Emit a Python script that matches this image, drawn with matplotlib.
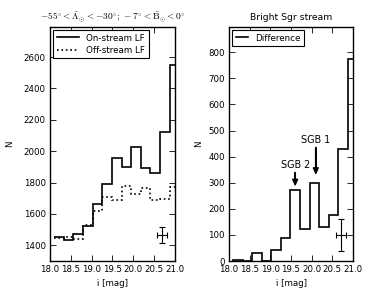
import numpy as np
import matplotlib
matplotlib.use('Agg')
import matplotlib.pyplot as plt
from matplotlib.lines import Line2D

plt.rcParams['mathtext.fontset'] = 'cm'
plt.rcParams['font.family'] = 'DejaVu Sans'

# bin edges in i [mag]
edges = [18.10, 18.33, 18.56, 18.79, 19.02, 19.25, 19.48, 19.72, 19.95,
         20.18, 20.41, 20.64, 20.87, 21.10]
on_lf = [1451, 1432, 1472, 1523, 1663, 1794, 1959, 1900, 2029, 1896, 1862, 2120, 2551]
off_lf = [1446, 1453, 1442, 1530, 1622, 1706, 1686, 1781, 1728, 1764, 1686, 1695, 1775]
diff = [5, 0, 30, 0, 42, 90, 272, 122, 300, 130, 175, 430, 775]

xticks = [18.0, 18.5, 19.0, 19.5, 20.0, 20.5, 21.0]
yticks_l = [1400, 1600, 1800, 2000, 2200, 2400, 2600]
yticks_r = [0, 100, 200, 300, 400, 500, 600, 700, 800]

# representative error bars
err_l = dict(x=20.70, y=1465, xerr=0.12, yerr=50)
err_r = dict(x=20.72, y=100, xerr=0.12, yerr=60)

fig = plt.figure(figsize=(3.74, 2.99), dpi=100)
ax1 = fig.add_axes([0.1337, 0.127, 0.3342, 0.7827])
ax2 = fig.add_axes([0.6123, 0.127, 0.3316, 0.7827])

fs = 6.2

def style(ax):
    ax.tick_params(direction='in', top=True, right=True, labelsize=fs,
                   length=4, width=0.6, pad=3)
    for s in ax.spines.values():
        s.set_linewidth(1.0)
    ax.set_xlim(18.0, 21.0)
    ax.set_xticks(xticks)
    ax.set_xticklabels(['%.1f' % t for t in xticks])
    ax.set_xlabel('i [mag]', fontsize=6.2, labelpad=3.5)
    ax.set_ylabel('N', fontsize=6.2)

# left panel
ax1.stairs(on_lf, edges, baseline=None, color='k', lw=1.2)
ax1.stairs(off_lf, edges, baseline=None, color='k', lw=1.2, ls=':')
ax1.errorbar(err_l['x'], err_l['y'], xerr=err_l['xerr'], yerr=err_l['yerr'],
             color='k', lw=0.8, capsize=2, capthick=0.8)
style(ax1)
ax1.set_ylim(1300, 2792)
ax1.set_yticks(yticks_l)
ax1.yaxis.labelpad = 7
ax1.set_title(r'$-55^{\circ} < \tilde{\Lambda}_{\odot} < -30^{\circ};\, '
              r'-7^{\circ} < \tilde{\mathrm{B}}_{\odot} < 0^{\circ}$',
              fontsize=6.8, pad=5)
h1 = [Line2D([], [], color='k', lw=1.2), Line2D([], [], color='k', lw=1.2, ls=':')]
leg = ax1.legend(h1, ['On-stream LF', 'Off-stream LF'], loc='upper left',
                 fontsize=6.3, fancybox=False, edgecolor='k', framealpha=1,
                 handlelength=2.6, borderaxespad=0.35, labelspacing=0.35)
leg.get_frame().set_linewidth(0.8)

# right panel
ax2.stairs(diff, edges, baseline=0, color='k', lw=1.2)
ax2.errorbar(err_r['x'], err_r['y'], xerr=err_r['xerr'], yerr=err_r['yerr'],
             color='k', lw=0.8, capsize=2, capthick=0.8)
style(ax2)
ax2.set_ylim(0, 897)
ax2.set_yticks(yticks_r)
ax2.yaxis.labelpad = 4
ax2.set_title('Bright Sgr stream', fontsize=6.7, pad=5)
h2 = [Line2D([], [], color='k', lw=1.2)]
leg2 = ax2.legend(h2, ['Difference'], loc='upper left', fontsize=6.3,
                  fancybox=False, edgecolor='k', framealpha=1,
                  handlelength=1.4, borderaxespad=0.35)
leg2.get_frame().set_linewidth(0.8)

arrow = dict(facecolor='k', edgecolor='k', width=0.3, headwidth=3.5,
             headlength=4, shrink=0)
ax2.annotate('SGB 2', xy=(19.6, 292), xytext=(19.6, 350), ha='center',
             va='bottom', fontsize=6.9, arrowprops=arrow)
ax2.annotate('SGB 1', xy=(20.1, 336), xytext=(20.1, 446), ha='center',
             va='bottom', fontsize=6.9, arrowprops=arrow)

fig.savefig('out.png', dpi=100)
